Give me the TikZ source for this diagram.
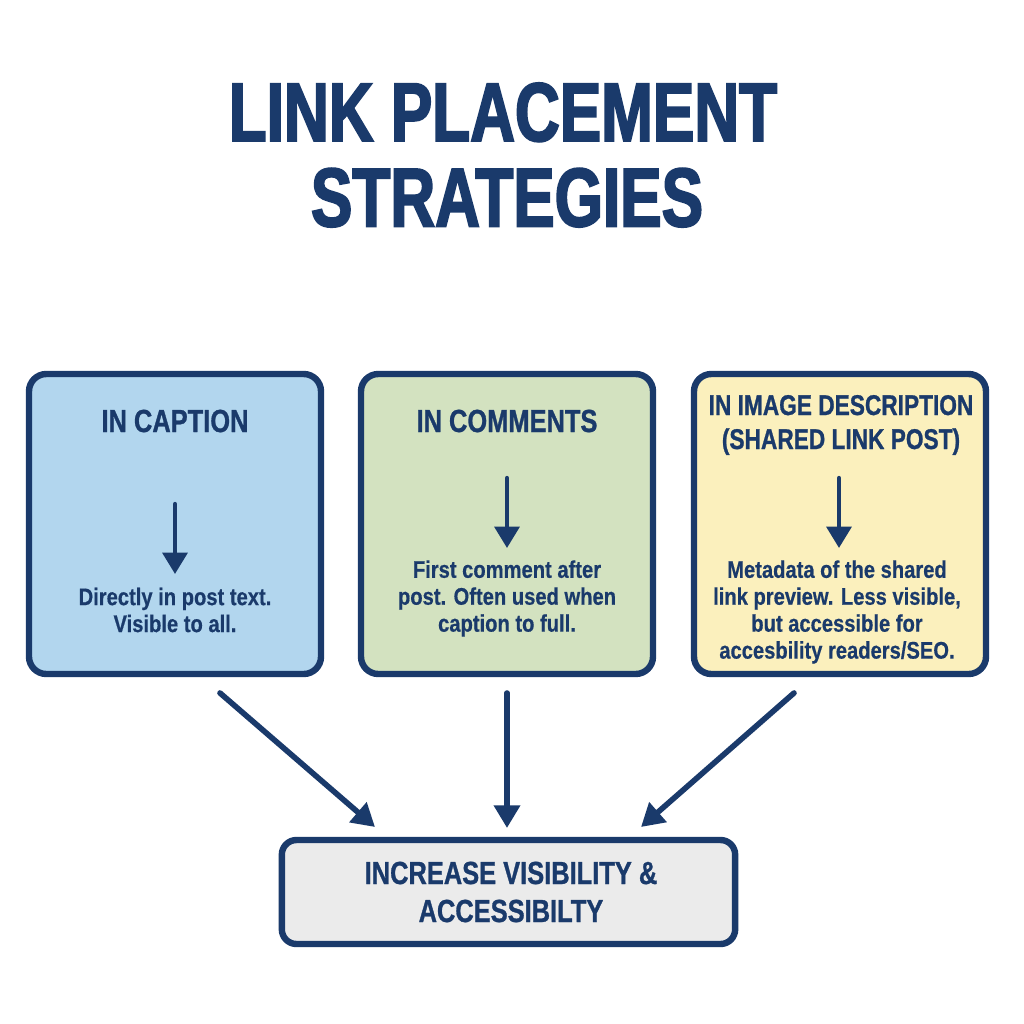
\documentclass[tikz,border=0pt]{standalone}
\usepackage{fontspec}
\setmainfont{Liberation Sans}
\newfontfamily\titlefont[FakeStretch=0.745,FakeBold=2.2]{Liberation Sans}
\newfontfamily\headfont[FakeStretch=0.795,FakeBold=0.9]{Liberation Sans}
\newfontfamily\bodyfont[FakeStretch=0.84,FakeBold=0.5]{Liberation Sans}
\usetikzlibrary{arrows.meta}
\definecolor{navy}{HTML}{1A3A6B}
\definecolor{cblue}{HTML}{B2D6EE}
\definecolor{cgreen}{HTML}{D3E2C0}
\definecolor{cyellow}{HTML}{FBF0BD}
\definecolor{cgrey}{HTML}{EBEBEB}
\tikzset{
 px/.style={x=0.75pt,y=-0.75pt},
 card/.style={draw=navy,line width=4.8pt,rounded corners=13pt,inner sep=0pt,minimum width=219pt,minimum height=225pt},
 sumbox/.style={draw=navy,line width=4.8pt,rounded corners=11pt,inner sep=0pt,minimum width=340pt,minimum height=78pt,fill=cgrey},
 flow/.style={draw=navy,line width=4.2pt,line cap=round,-{Triangle[length=17pt,width=19pt]}},
 inner/.style={draw=navy,line width=3.2pt,line cap=round,-{Triangle[length=16pt,width=18.5pt]}},
 bigttl/.style={text=navy,font=\titlefont\bfseries\fontsize{62.5}{64}\selectfont,align=center},
 head/.style={text=navy,font=\headfont\bfseries\fontsize{24}{28.5}\selectfont,align=center},
 headsm/.style={text=navy,font=\headfont\bfseries\fontsize{21.4}{25.5}\selectfont,align=center},
 body/.style={text=navy,font=\bodyfont\bfseries\fontsize{18}{20.2}\selectfont,align=center},
}
\begin{document}
\begin{tikzpicture}[px]
\useasboundingbox (0,0) rectangle (1024,1024);
\fill[white] (0,0) rectangle (1024,1024);
\node[bigttl] (title) at (503,155) {LINK PLACEMENT\\\hspace*{6pt}STRATEGIES};
% cards
\node[card,fill=cblue] (c1) at (175,524) {};
\node[card,fill=cgreen] (c2) at (507,524) {};
\node[card,fill=cyellow] (c3) at (840,524) {};
\node[sumbox] (goal) at (508.5,892) {};
\node[head] (goalt) at (511,892) {INCREASE VISIBILITY \&\\ACCESSIBILTY};
% card headings
\node[head] (h1) at (175,421) {IN CAPTION};
\node[head] (h2) at (507,421) {IN COMMENTS};
\node[headsm] (h3) at (841,425) {IN IMAGE DESCRIPTION\\(SHARED LINK POST)};
% inner arrows
\coordinate (a1s) at (175,504); \coordinate (a1e) at (175,574);
\coordinate (a2s) at (507,478); \coordinate (a2e) at (507,548);
\coordinate (a3s) at (839,478); \coordinate (a3e) at (839,548);
\draw[inner] (a1s) -- (a1e);
\draw[inner] (a2s) -- (a2e);
\draw[inner] (a3s) -- (a3e);
% body text
\node[body] (b1) at (175,610) {Directly in post text.\\Visible to all.};
\node[body] (b2) at (507,598.5) {First comment after\\post. Often used when\\caption to full.};
\node[body] (b3) at (837,612) {Metadata of the shared\\link preview. Less visible,\\but accessible for\\accesbility readers/SEO.};
% connectors
\coordinate (s1) at (220,693); \coordinate (e1) at (375,827);
\coordinate (s2) at (507,693); \coordinate (e2) at (507,828);
\coordinate (s3) at (794,693); \coordinate (e3) at (641,827);
\draw[flow] (s1) -- (e1);
\draw[flow] (s2) -- (e2);
\draw[flow] (s3) -- (e3);
\end{tikzpicture}
\end{document}
